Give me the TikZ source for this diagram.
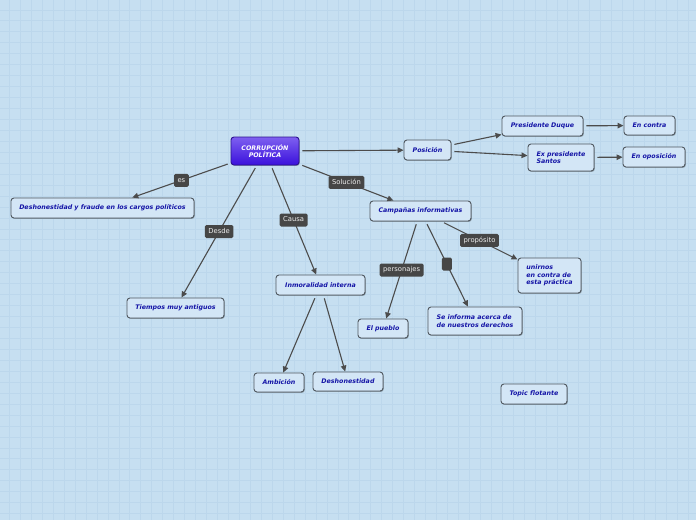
\documentclass[tikz,border=0pt]{standalone}
\usepackage{fontspec}
\setmainfont{DejaVu Sans}
\usetikzlibrary{arrows.meta,shadows}
\definecolor{bgc}{HTML}{C6DFF1}
\definecolor{gridc}{HTML}{BCD7EC}
\definecolor{nodefill}{HTML}{D3E6F6}
\definecolor{nodeborder}{HTML}{505860}
\definecolor{txtc}{HTML}{1414A6}
\definecolor{lblc}{HTML}{464646}
\definecolor{lbltxt}{HTML}{EEEEEE}
\definecolor{edgec}{HTML}{4C4C4C}
\definecolor{ctop}{HTML}{7E60F0}
\definecolor{cbot}{HTML}{3A10DC}
\definecolor{cborder}{HTML}{2C1290}
\tikzset{
  topic/.style={draw=nodeborder, line width=0.9pt, fill=nodefill, rounded corners=3pt,
    font=\fontsize{6.3}{7.6}\selectfont\bfseries\itshape, text=txtc, inner sep=0pt,
    minimum height=20pt, align=left,
    drop shadow={shadow xshift=0.8pt, shadow yshift=-0.9pt, opacity=0.3, fill=black}},
  central/.style={draw=cborder, line width=0.9pt, top color=ctop, bottom color=cbot,
    rounded corners=3pt, font=\fontsize{6.3}{7.6}\selectfont\bfseries\itshape, text=white,
    inner sep=0pt, align=center,
    drop shadow={shadow xshift=0.8pt, shadow yshift=-0.9pt, opacity=0.3, fill=black}},
  conn/.style={draw=edgec, line width=1.1pt, -{Triangle[length=6pt,width=5.5pt]}, shorten <=3pt},
  lbl/.style={fill=lblc, text=lbltxt, font=\fontsize{6.8}{7.5}\selectfont, rounded corners=1.5pt,
    inner xsep=3.5pt, inner ysep=0pt, minimum height=13pt, text height=5.2pt, text depth=1.4pt}
}
\begin{document}
\begin{tikzpicture}[x=1pt,y=-1pt]
\fill[bgc] (0,0) rectangle (696,520);
\useasboundingbox (0,0) rectangle (696,520);
\foreach \i in {0,...,63} \draw[gridc, line width=1pt] (9.5+\i*10.95,0) -- ++(0,520);
\foreach \j in {0,...,47} \draw[gridc, line width=1pt] (0,10+\j*10.95) -- ++(696,0);

\node[central, minimum width=68pt, minimum height=28pt] (c) at (265,151) {CORRUPCIÓN\\POLÍTICA};
\node[topic, minimum width=183pt] (fraude) at (102.5,208) {Deshonestidad y fraude en los cargos políticos};
\node[topic, minimum width=47pt] (pos) at (427.5,150) {Posición};
\node[topic, minimum width=81pt] (duque) at (542.5,126) {Presidente Duque};
\node[topic, minimum width=66pt, minimum height=27pt] (santos) at (561,157.5) {Ex presidente\\Santos};
\node[topic, minimum width=51pt, minimum height=19pt] (contra) at (649.5,125.5) {En contra};
\node[topic, minimum width=62pt] (opos) at (654,157) {En oposición};
\node[topic, minimum width=101pt] (camp) at (420.5,211) {Campañas informativas};
\node[topic, minimum width=63pt, minimum height=35pt] (unir) at (549.5,275.5) {unirnos\\en contra de\\esta práctica};
\node[topic, minimum width=97pt] (tiempos) at (175.5,308) {Tiempos muy antiguos};
\node[topic, minimum width=89pt] (inmoral) at (320.5,285) {Inmoralidad interna};
\node[topic, minimum width=50pt, minimum height=19pt] (pueblo) at (383,328.5) {El pueblo};
\node[topic, minimum width=94pt, minimum height=28pt] (info) at (475,321) {Se informa acerca de\\de nuestros derechos};
\node[topic, minimum width=50pt, minimum height=19pt] (ambi) at (279,382.5) {Ambición};
\node[topic, minimum width=70pt, minimum height=19pt] (deshon) at (348,381.5) {Deshonestidad};
\node[topic, minimum width=66pt] (flot) at (534,394) {Topic flotante};

\draw[conn] (c) -- node[lbl] (les) {es} (fraude);
\draw[conn] (c) -- node[lbl] (ldesde) {Desde} (tiempos);
\draw[conn] (c) -- node[lbl] (lcausa) {Causa} (inmoral);
\draw[conn] (c) -- node[lbl] (lsol) {Solución} (camp);
\draw[conn] (c) -- (pos);
\draw[conn] (pos) -- (duque);
\draw[conn] (pos) -- (santos);
\draw[conn] (duque) -- (contra);
\draw[conn] (santos) -- (opos);
\draw[conn] (camp) -- node[lbl] (lprop) {propósito} (unir);
\draw[conn] (camp) -- node[lbl] (lpers) {personajes} (pueblo);
\draw[conn] (camp) -- node[lbl, minimum width=10pt, inner xsep=0pt] (lblank) {} (info);
\draw[conn] (inmoral) -- (ambi);
\draw[conn] (inmoral) -- (deshon);
\end{tikzpicture}
\end{document}
